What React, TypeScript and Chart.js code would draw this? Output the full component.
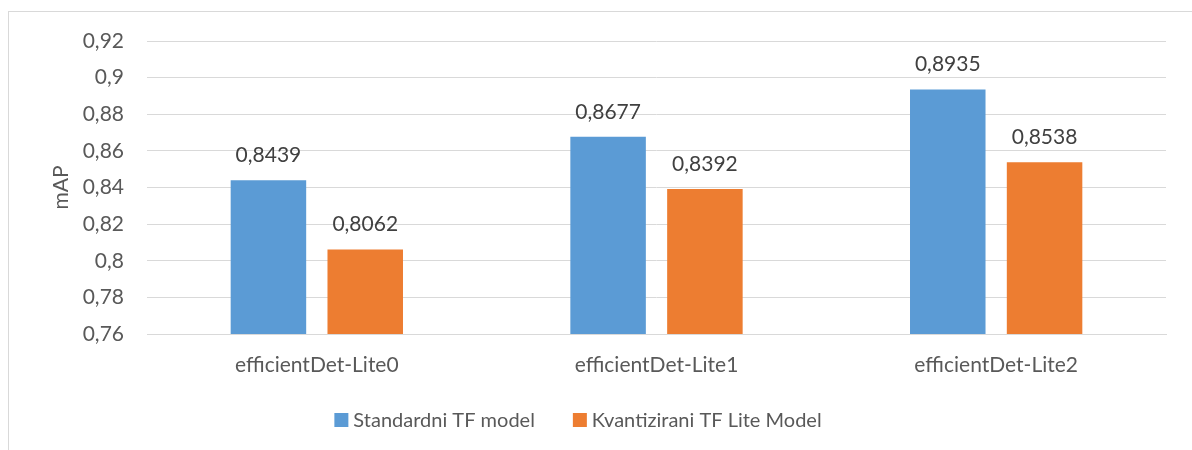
import React, { useEffect, useRef } from "react";
import { Chart, registerables } from "chart.js";

Chart.register(...registerables);

const categories = ["efficientDet-Lite0", "efficientDet-Lite1", "efficientDet-Lite2"];
const standardValues = [0.8439, 0.8677, 0.8935];
const liteValues = [0.8062, 0.8392, 0.8538];
const seriesNames = ["Standardni TF model", "Kvantizirani TF Lite Model"];
const seriesColors = ["#5B9BD5", "#ED7D31"];
const yMin = 0.76;
const yMax = 0.92;
const yStep = 0.02;

const FONT = "Lato, 'Open Sans', sans-serif";
const FS = 21;
const TEXT = "#595959";

const fmt = (v: number, d: number) =>
  String(Number(v.toFixed(d))).replace(".", ",");

const dataLabels = {
  id: "dataLabels",
  afterDatasetsDraw(chart: any) {
    const ctx = chart.ctx;
    ctx.save();
    ctx.font = `${FS}px ${FONT}`;
    ctx.fillStyle = "#404040";
    ctx.textAlign = "center";
    ctx.textBaseline = "middle";
    chart.data.datasets.forEach((ds: any, i: number) => {
      const meta = chart.getDatasetMeta(i);
      meta.data.forEach((bar: any, j: number) => {
        ctx.fillText(fmt(ds.data[j], 4), bar.x, bar.y - 25);
      });
    });
    ctx.restore();
  },
};

// legend drawn like the office-style legend: small square, tight text, wide gap between items
const customLegend = {
  id: "customLegend",
  afterDraw(chart: any) {
    const ctx = chart.ctx;
    ctx.save();
    ctx.font = `20px ${FONT}`;
    ctx.textBaseline = "middle";
    ctx.textAlign = "left";
    const box = 14;
    const gapText = 5;
    const gapItem = 38;
    const items = chart.data.datasets.map((ds: any) => ({
      label: ds.label,
      color: ds.backgroundColor,
      w: ctx.measureText(ds.label).width,
    }));
    const total =
      items.reduce((s: number, it: any) => s + box + gapText + it.w, 0) +
      gapItem * (items.length - 1);
    const centerX = 578;
    const cy = 420;
    let x = centerX - total / 2;
    items.forEach((it: any) => {
      ctx.fillStyle = it.color;
      ctx.fillRect(x, cy - box / 2, box, box);
      x += box + gapText;
      ctx.fillStyle = TEXT;
      ctx.fillText(it.label, x, cy + 1);
      x += it.w + gapItem;
    });
    ctx.restore();
  },
};

export default function App() {
  const ref = useRef<HTMLCanvasElement>(null);
  useEffect(() => {
    if (!ref.current) return;
    const chart = new Chart(ref.current, {
      type: "bar",
      data: {
        labels: categories,
        datasets: [
          {
            label: seriesNames[0],
            data: standardValues,
            backgroundColor: seriesColors[0],
            categoryPercentage: 0.57,
            barPercentage: 0.78,
          },
          {
            label: seriesNames[1],
            data: liteValues,
            backgroundColor: seriesColors[1],
            categoryPercentage: 0.57,
            barPercentage: 0.78,
          },
        ],
      },
      options: {
        animation: false,
        responsive: false,
        maintainAspectRatio: false,
        layout: { padding: { top: 41, right: 26, bottom: 49, left: 0 } },
        plugins: {
          legend: { display: false },
          tooltip: { enabled: false },
        },
        scales: {
          x: {
            grid: { display: false },
            border: { display: true, color: "#D9D9D9", width: 1 },
            ticks: { color: TEXT, font: { family: FONT, size: FS }, padding: 11 },
            afterFit: (s: any) => {
              s.height = 67;
            },
          },
          y: {
            min: yMin,
            max: yMax,
            grid: { color: "#D9D9D9", drawTicks: false },
            border: { display: false },
            ticks: {
              stepSize: yStep,
              padding: 23,
              color: TEXT,
              font: { family: FONT, size: FS },
              callback: (v: any) => fmt(Number(v), 2),
            },
            title: {
              display: true,
              text: "mAP",
              color: TEXT,
              font: { family: FONT, size: FS },
              padding: { top: 49, bottom: 0 },
            },
            afterFit: (s: any) => {
              s.width = 147;
            },
          },
        },
      },
      plugins: [dataLabels, customLegend],
    });
    return () => chart.destroy();
  }, []);
  return (
    <div style={{ position: "fixed", left: 0, top: 0, width: 1192, height: 450, overflow: "hidden", background: "#fff" }}>
      <div
        style={{
          position: "absolute",
          left: 8,
          top: 11,
          width: 1300,
          height: 600,
          border: "1px solid #D9D9D9",
        }}
      />
      <canvas ref={ref} width={1192} height={450} style={{ position: "absolute", left: 0, top: 0 }} />
    </div>
  );
}
